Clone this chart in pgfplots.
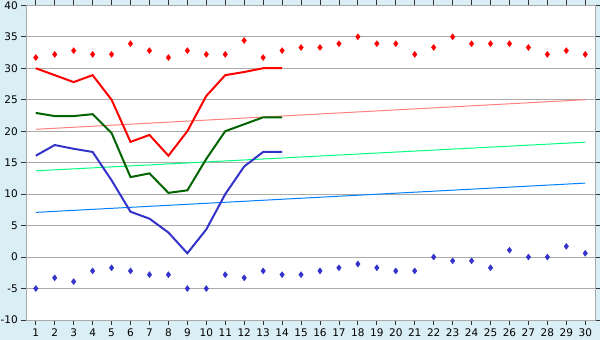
\documentclass[border=0pt]{standalone}
\usepackage{pgfplots}
\pgfplotsset{compat=1.18}
\usepackage{fontspec}
\setmainfont{DejaVu Sans}
\definecolor{bgblue}{HTML}{DAEEF5}
\definecolor{gridgray}{HTML}{AAAAAA}
\definecolor{dred}{HTML}{FF0000}
\definecolor{dgreen}{HTML}{006400}
\definecolor{dblue}{HTML}{3333CC}
\definecolor{tpink}{HTML}{FF8080}
\definecolor{tgreen}{HTML}{00FF80}
\definecolor{tblue}{HTML}{0080FF}
\begin{document}
\begin{tikzpicture}[x=1pt,y=1pt]
\fill[bgblue] (0,0) rectangle (600,340);
\useasboundingbox (0,0) rectangle (600,340);
\begin{axis}[
  at={(26.3pt,20pt)}, anchor=south west,
  width=569pt, height=314.7pt, scale only axis,
  xmin=0.5, xmax=30.53, ymin=-10, ymax=40,
  xtick={1,...,30}, ytick={-10,-5,...,40},
  axis background/.style={fill=white},
  axis line style={gridgray},
  ymajorgrids, major grid style={gridgray, line width=0.8pt},
  tick align=outside,
  major tick length=5pt,
  xtick style={black!80, line width=0.8pt},
  ytick style={black!80, line width=0.8pt},
  tick label style={font=\fontsize{10.5}{12}\selectfont, black},
  /pgf/number format/assume math mode=true,
  clip=false,
]
% trend lines
\addplot[tpink, line width=1pt] coordinates {(1,20.3) (30,25.0)};
\addplot[tgreen, line width=1pt] coordinates {(1,13.7) (30,18.25)};
\addplot[tblue, line width=1pt] coordinates {(1,7.1) (30,11.75)};
% max temps
\addplot[dred, line width=2pt] coordinates {
(1,30.0) (2,28.9) (3,27.8) (4,28.9) (5,25.0) (6,18.3) (7,19.4) (8,16.1) (9,20.0) (10,25.6) (11,28.9) (12,29.4) (13,30.0) (14,30.0)};
\addplot[dgreen, line width=2pt] coordinates {
(1,22.9) (2,22.4) (3,22.4) (4,22.7) (5,19.7) (6,12.7) (7,13.3) (8,10.2) (9,10.6) (10,15.6) (11,20.0) (12,21.1) (13,22.2) (14,22.2)};
\addplot[dblue, line width=2pt] coordinates {
(1,16.1) (2,17.8) (3,17.2) (4,16.7) (5,12.2) (6,7.2) (7,6.1) (8,3.9) (9,0.6) (10,4.4) (11,10.0) (12,14.4) (13,16.7) (14,16.7)};
% record highs
\addplot[only marks, mark=diamond*, mark size=3pt, dred] coordinates {
(1,31.7) (2,32.2) (3,32.8) (4,32.2) (5,32.2) (6,33.9) (7,32.8) (8,31.7) (9,32.8) (10,32.2)
(11,32.2) (12,34.4) (13,31.7) (14,32.8) (15,33.3) (16,33.3) (17,33.9) (18,35.0) (19,33.9) (20,33.9)
(21,32.2) (22,33.3) (23,35.0) (24,33.9) (25,33.9) (26,33.9) (27,33.3) (28,32.2) (29,32.8) (30,32.2)};
% record lows
\addplot[only marks, mark=diamond*, mark size=3pt, dblue] coordinates {
(1,-5.0) (2,-3.3) (3,-3.9) (4,-2.2) (5,-1.7) (6,-2.2) (7,-2.8) (8,-2.8) (9,-5.0) (10,-5.0)
(11,-2.8) (12,-3.3) (13,-2.2) (14,-2.8) (15,-2.8) (16,-2.2) (17,-1.7) (18,-1.1) (19,-1.7) (20,-2.2)
(21,-2.2) (22,0.0) (23,-0.6) (24,-0.6) (25,-1.7) (26,1.1) (27,0.0) (28,0.0) (29,1.7) (30,0.6)};
\end{axis}
\end{tikzpicture}
\end{document}
